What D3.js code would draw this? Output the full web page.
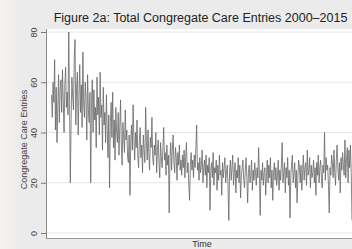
<!DOCTYPE html>
<html>
<head>
<meta charset="utf-8">
<script src="https://cdn.jsdelivr.net/npm/d3@7"></script>
<style>
  html, body { margin: 0; padding: 0; background: #ebebeb; }
  svg { display: block; font-family: "Liberation Sans", Arial, sans-serif; }
</style>
</head>
<body>
<svg id="chart" width="352" height="249"></svg>
<script>
// entries, 2000-2015 (half-month steps)
const entries = [
  55, 46, 60, 52, 69, 41, 58, 36, 50, 63, 44, 57,
  61, 48, 65, 53, 40, 59, 66, 50, 56, 47, 80, 52,
  20, 45, 62, 54, 49, 70, 77, 43, 58, 64, 39, 55,
  67, 48, 59, 42, 72, 51, 46, 60, 53, 37, 63, 49,
  44, 56, 20, 52, 61, 40, 57, 45, 50, 34, 62, 47,
  54, 39, 64, 46, 51, 33, 58, 43, 48, 36, 55, 41,
  30, 47, 18, 44, 52, 38, 56, 34, 45, 29, 50, 40,
  36, 48, 31, 42, 53, 35, 27, 44, 38, 32, 49, 37,
  41, 30, 28, 39, 15, 36, 43, 33, 51, 38, 29, 40,
  34, 45, 31, 26, 37, 42, 30, 35, 24, 39, 33, 28,
  50, 36, 29, 41, 32, 25, 38, 34, 46, 30, 27, 35,
  31, 40, 24, 33, 37, 28, 22, 36, 30, 26, 34, 42,
  29, 32, 23, 35, 27, 31, 8, 30, 36, 25, 33, 39,
  28, 24, 34, 30, 21, 32, 27, 35, 25, 29, 23, 31,
  26, 33, 22, 30, 36, 24, 28, 19, 13, 27, 32, 25,
  29, 22, 31, 26, 34, 43, 25, 28, 21, 30, 24, 27,
  33, 20, 26, 29, 23, 31, 18, 27, 24, 30, 9, 25,
  28, 22, 32, 19, 26, 24, 29, 17, 27, 21, 31, 23,
  25, 15, 28, 22, 26, 30, 20, 24, 27, 18, 5, 25,
  29, 21, 26, 31, 19, 24, 28, 16, 25, 22, 30, 20,
  27, 14, 23, 26, 29, 21, 18, 25, 30, 22, 12, 24,
  27, 20, 23, 29, 17, 25, 21, 28, 24, 19, 26, 22,
  34, 23, 7, 25, 21, 28, 19, 24, 26, 15, 23, 29,
  20, 27, 22, 30, 18, 25, 13, 24, 28, 21, 26, 19,
  23, 29, 17, 25, 21, 27, 36, 20, 24, 28, 16, 26,
  22, 30, 19, 25, 6, 23, 27, 31, 20, 24, 28, 18,
  25, 12, 22, 29, 26, 20, 27, 17, 24, 31, 21, 26,
  28, 19, 33, 23, 25, 30, 18, 27, 22, 24, 29, 20,
  26, 15, 28, 23, 31, 20, 26, 29, 22, 18, 27, 24,
  40, 21, 30, 25, 27, 19, 8, 26, 23, 31, 28, 22,
  33, 24, 19, 29, 35, 26, 21, 28, 16, 30, 25, 32,
  27, 23, 37, 22, 29, 34, 20, 33, 26, 35, 24, 5
];
const yTicks = [0, 20, 40, 60, 80];
const title = "Figure 2a: Total Congregate Care Entries 2000\u20132015";
const yTitle = "Congregate Care Entries";
const xTitle = "Time";

const svg = d3.select("#chart");
const W = 352, H = 249;

// page strip on the far left
const grad = svg.append("defs").append("linearGradient").attr("id", "strip");
grad.append("stop").attr("offset", "0%").attr("stop-color", "#f5f3f0");
grad.append("stop").attr("offset", "100%").attr("stop-color", "#ebebeb");
svg.append("rect").attr("width", W).attr("height", H).attr("fill", "#ebebeb");
svg.append("rect").attr("width", 22).attr("height", H).attr("fill", "url(#strip)");

const plot = { left: 46, right: 358, top: 29, bottom: 238 };

svg.append("rect")
  .attr("x", plot.left).attr("y", plot.top)
  .attr("width", plot.right - plot.left).attr("height", plot.bottom - plot.top)
  .attr("fill", "#ffffff");

const x = d3.scaleLinear().domain([0, entries.length - 1]).range([51.5, 352]);
const y = d3.scaleLinear().domain([0, 80]).range([233, 32]);

// gridlines
svg.append("g")
  .selectAll("line")
  .data(yTicks)
  .join("line")
  .attr("x1", plot.left).attr("x2", plot.right)
  .attr("y1", d => y(d)).attr("y2", d => y(d))
  .attr("stroke", "#e6e6e6").attr("stroke-width", 1);

// y axis
const yAxis = svg.append("g")
  .attr("transform", `translate(${plot.left},0)`)
  .call(d3.axisLeft(y).tickValues(yTicks).tickSize(5).tickPadding(2));
yAxis.select(".domain").remove();
yAxis.selectAll(".tick line").attr("stroke", "#777");
yAxis.selectAll(".tick text")
  .attr("font-size", 9).attr("fill", "#444")
  .attr("transform", "rotate(-90)")
  .attr("x", 0).attr("y", -9)
  .attr("dy", 0)
  .attr("text-anchor", "middle");

svg.append("line")
  .attr("x1", plot.left + 0.5).attr("x2", plot.left + 0.5)
  .attr("y1", plot.top).attr("y2", plot.bottom)
  .attr("stroke", "#888");

svg.append("line")
  .attr("x1", plot.left).attr("x2", W)
  .attr("y1", plot.bottom + 0.5).attr("y2", plot.bottom + 0.5)
  .attr("stroke", "#999");

// series
const line = d3.line().x((d, i) => x(i)).y(d => y(d));
svg.append("path")
  .datum(entries)
  .attr("d", line)
  .attr("fill", "none")
  .attr("stroke", "#666")
  .attr("stroke-width", 0.8)
  .attr("stroke-linejoin", "miter");

// titles
svg.append("text")
  .attr("x", 200.5).attr("y", 22)
  .attr("text-anchor", "middle")
  .attr("font-size", 12.5).attr("fill", "#222")
  .text(title);

svg.append("text")
  .attr("transform", `translate(27,${(plot.top + plot.bottom) / 2 + 6}) rotate(-90)`)
  .attr("text-anchor", "middle")
  .attr("font-size", 9).attr("fill", "#444")
  .text(yTitle);

svg.append("text")
  .attr("x", 202).attr("y", 247.3)
  .attr("text-anchor", "middle")
  .attr("font-size", 9).attr("fill", "#333")
  .text(xTitle);
</script>
</body>
</html>
